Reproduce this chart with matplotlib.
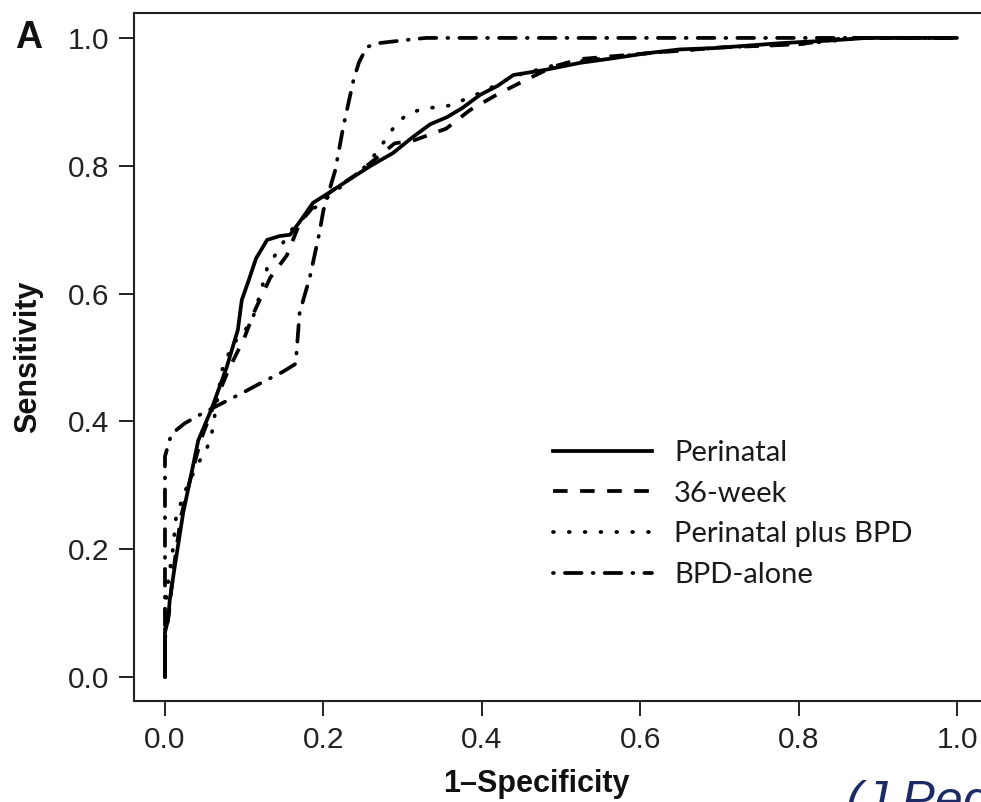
import numpy as np
import matplotlib
matplotlib.use("Agg")
import matplotlib.pyplot as plt
from matplotlib.lines import Line2D

plt.rcParams['font.family'] = ['Liberation Sans', 'DejaVu Sans']
plt.rcParams['lines.scale_dashes'] = False

# Curvas ROC (1-especificidad, sensibilidad)
perinatal_fpr = [0, 0, 0.004, 0.006, 0.012, 0.023, 0.032, 0.042, 0.059, 0.078, 0.092, 0.097,
                 0.105, 0.115, 0.129, 0.145, 0.158, 0.170, 0.187, 0.21, 0.237, 0.26, 0.288,
                 0.313, 0.335, 0.356, 0.375, 0.398, 0.42, 0.44, 0.48, 0.524, 0.565, 0.608,
                 0.65, 0.692, 0.78, 0.84, 0.886, 1.0]
perinatal_tpr = [0, 0.07, 0.09, 0.12, 0.17, 0.257, 0.31, 0.37, 0.42, 0.485, 0.543, 0.59,
                 0.618, 0.655, 0.684, 0.69, 0.692, 0.712, 0.742, 0.76, 0.782, 0.80, 0.82,
                 0.845, 0.865, 0.876, 0.89, 0.911, 0.925, 0.942, 0.95, 0.961, 0.968, 0.976,
                 0.982, 0.984, 0.992, 0.996, 1.0, 1.0]

week36_fpr = [0, 0, 0.005, 0.01, 0.02, 0.03, 0.045, 0.06, 0.08, 0.1, 0.114, 0.133, 0.154,
              0.17, 0.19, 0.21, 0.24, 0.27, 0.29, 0.315, 0.355, 0.385, 0.42, 0.452, 0.49,
              0.525, 0.6, 0.7, 0.8, 0.86, 1.0]
week36_tpr = [0, 0.06, 0.1, 0.16, 0.25, 0.3, 0.37, 0.42, 0.48, 0.53, 0.575, 0.625, 0.66,
              0.71, 0.74, 0.76, 0.785, 0.815, 0.835, 0.84, 0.858, 0.887, 0.912, 0.932, 0.955,
              0.967, 0.975, 0.985, 0.99, 1.0, 1.0]

plus_fpr = [0, 0, 0.003, 0.01, 0.014, 0.025, 0.04, 0.053, 0.059, 0.072, 0.085, 0.1, 0.111,
            0.122, 0.129, 0.144, 0.16, 0.18, 0.2, 0.22, 0.25, 0.268, 0.29, 0.305, 0.325,
            0.345, 0.364, 0.38, 0.4, 0.44, 0.5, 0.6, 0.7, 0.8, 0.88, 1.0]
plus_tpr = [0, 0.1, 0.14, 0.2, 0.25, 0.29, 0.33, 0.358, 0.38, 0.48, 0.52, 0.54, 0.562,
            0.607, 0.64, 0.67, 0.70, 0.725, 0.745, 0.765, 0.795, 0.822, 0.862, 0.88, 0.889,
            0.892, 0.895, 0.905, 0.915, 0.94, 0.96, 0.975, 0.985, 0.99, 1.0, 1.0]

bpd_fpr = [0, 0, 0.008, 0.025, 0.048, 0.1, 0.124, 0.148, 0.165, 0.17, 0.183, 0.195, 0.2,
           0.215, 0.225, 0.238, 0.245, 0.255, 0.271, 0.313, 0.33, 1.0]
bpd_tpr = [0, 0.345, 0.38, 0.397, 0.413, 0.446, 0.462, 0.477, 0.49, 0.57, 0.626, 0.695,
           0.73, 0.793, 0.86, 0.934, 0.962, 0.986, 0.992, 0.998, 1.0, 1.0]

labels = ['Perinatal', '36-week', 'Perinatal plus BPD', 'BPD-alone']
ticks = [0.0, 0.2, 0.4, 0.6, 0.8, 1.0]

# Estilos de línea al estilo de R (lty 1, 2, 3, 4)
lw = 2.7
styles = [
    dict(linestyle='-'),
    dict(linestyle=(0, (10.5, 9.0))),
    dict(linestyle=(0, (0.6, 10.8)), dash_capstyle='round'),
    dict(linestyle=(0, (0.6, 8.0, 12.0, 8.0)), dash_capstyle='round'),
]

fig = plt.figure(figsize=(9.81, 8.02), dpi=100)
W, H = 981, 802
# el eje derecho queda fuera de la imagen (recortado como en el original)
ax = fig.add_axes([134 / W, (H - 701) / H, (989 - 134) / W, (701 - 13) / H])

series = [(perinatal_fpr, perinatal_tpr), (week36_fpr, week36_tpr),
          (plus_fpr, plus_tpr), (bpd_fpr, bpd_tpr)]
for (fx, ty), st in zip(series, styles):
    ax.plot(fx, ty, color='black', linewidth=lw, solid_capstyle='round', **st)

ax.set_xlim(-0.0391, 1.0404)
ax.set_ylim(-0.0376, 1.039)
ax.set_xticks(ticks)
ax.set_yticks(ticks)
ax.set_xticklabels([f'{t:.1f}' for t in ticks])
ax.set_yticklabels([f'{t:.1f}' for t in ticks])
ax.tick_params(axis='both', labelsize=21.5, length=11, width=1.4, pad=7, color='#222222',
               labelcolor='#222222')
for sp in ax.spines.values():
    sp.set_linewidth(1.5)
    sp.set_color('#222222')

# Leyenda sin marco
handles = [Line2D([], [], color='black', linewidth=lw, **st) for st in styles]
leg = ax.legend(handles, labels, loc='upper left', frameon=False,
                bbox_to_anchor=(553 / W, 1 - 440 / H), bbox_transform=fig.transFigure,
                borderpad=0, borderaxespad=0, handlelength=3.4, handletextpad=0.75,
                labelspacing=0.5, prop={'family': 'Lato', 'size': 21})
for t in leg.get_texts():
    t.set_color('#1a1a1a')

fig.text(536 / W, 1 - 784 / H, '1\u2013Specificity', ha='center', va='center',
         fontsize=22, fontweight='bold', color='#111111')
fig.text(28 / W, 1 - 357 / H, 'Sensitivity', ha='center', va='center', rotation=90,
         fontsize=22, fontweight='bold', color='#111111')
fig.text(15 / W, 1 - 38 / H, 'A', ha='left', va='center', fontsize=27,
         fontweight='bold', color='#111111')
# cita recortada en la esquina inferior derecha, como en la imagen original
fig.text(846 / W, 1 - 816 / H, '(J Pediatr', ha='left', va='baseline', fontsize=36,
         style='italic', color='#1c2a66')

fig.savefig('out.png', dpi=100)
